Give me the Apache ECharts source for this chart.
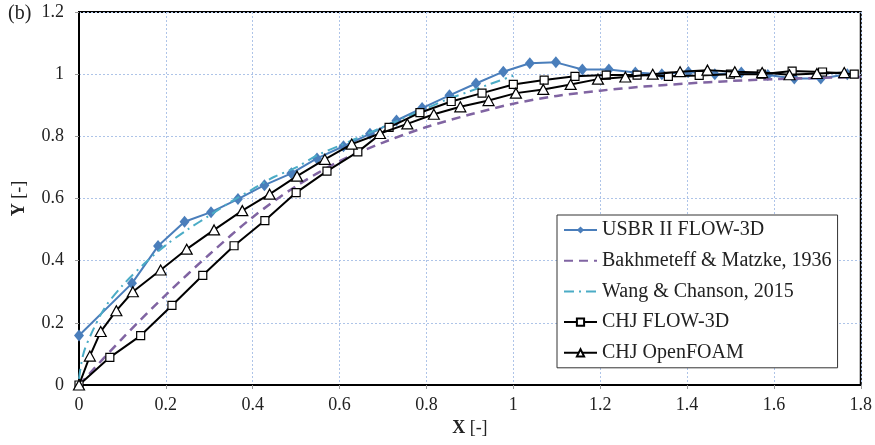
<!DOCTYPE html>
<html>
<head>
<meta charset="utf-8">
<script src="https://cdn.jsdelivr.net/npm/echarts@6/dist/echarts.min.js"></script>
<style>
  html, body { margin: 0; padding: 0; background: #fff; }
  #chart { width: 875px; height: 445px; }
</style>
</head>
<body>
<div id="chart"></div>
<script>
// Free-surface profiles: dimensionless Y against X
const xTicks = [0, 0.2, 0.4, 0.6, 0.8, 1, 1.2, 1.4, 1.6, 1.8];
const yTicks = [0, 0.2, 0.4, 0.6, 0.8, 1, 1.2];

const seriesNames = [
  'USBR II FLOW-3D',
  'Bakhmeteff & Matzke, 1936',
  'Wang & Chanson, 2015',
  'CHJ FLOW-3D',
  'CHJ OpenFOAM'
];

const usbrX = [0, 0.122, 0.182, 0.243, 0.304, 0.366, 0.427, 0.489, 0.548, 0.609, 0.670, 0.731, 0.790, 0.853, 0.914, 0.977, 1.038, 1.098, 1.159, 1.220, 1.281, 1.342, 1.403, 1.464, 1.525, 1.586, 1.647, 1.708, 1.769];
const usbrY = [0.159, 0.327, 0.447, 0.525, 0.556, 0.598, 0.643, 0.681, 0.729, 0.768, 0.808, 0.851, 0.891, 0.932, 0.970, 1.008, 1.035, 1.038, 1.015, 1.015, 1.005, 1.0, 1.007, 1.0, 1.005, 0.997, 0.986, 0.986, 1.0];

const bakhX = [0, 0.1, 0.2, 0.3, 0.4, 0.5, 0.6, 0.7, 0.8, 0.9, 1.0, 1.1, 1.2, 1.3, 1.4, 1.5, 1.6, 1.7, 1.8];
const bakhY = [0, 0.15, 0.29, 0.42, 0.54, 0.64, 0.72, 0.78, 0.83, 0.87, 0.905, 0.93, 0.947, 0.96, 0.97, 0.978, 0.984, 0.988, 0.991];

const wangX = [0, 0.01, 0.03, 0.06, 0.1, 0.15, 0.2, 0.25, 0.3, 0.35, 0.4, 0.45, 0.5, 0.55, 0.6, 0.65, 0.7, 0.75, 0.8, 0.85, 0.9, 0.95, 1.0];
const wangY = [0.02, 0.1, 0.17, 0.25, 0.32, 0.39, 0.45, 0.5, 0.545, 0.59, 0.63, 0.67, 0.7, 0.74, 0.77, 0.8, 0.83, 0.86, 0.89, 0.92, 0.945, 0.97, 0.995];

const chjFlowX = [0, 0.071, 0.142, 0.214, 0.285, 0.357, 0.428, 0.500, 0.571, 0.642, 0.714, 0.785, 0.857, 0.928, 1.0, 1.071, 1.142, 1.214, 1.285, 1.357, 1.428, 1.5, 1.571, 1.642, 1.712, 1.785];
const chjFlowY = [0, 0.089, 0.159, 0.256, 0.353, 0.448, 0.529, 0.619, 0.688, 0.750, 0.829, 0.876, 0.912, 0.939, 0.967, 0.981, 0.993, 0.997, 0.997, 0.993, 0.996, 1.0, 1.0, 1.01, 1.007, 1.0];

const chjFoamX = [0, 0.025, 0.050, 0.086, 0.124, 0.188, 0.248, 0.311, 0.376, 0.439, 0.502, 0.566, 0.628, 0.693, 0.756, 0.817, 0.878, 0.943, 1.006, 1.069, 1.132, 1.195, 1.258, 1.321, 1.384, 1.447, 1.510, 1.573, 1.636, 1.699, 1.762];
const chjFoamY = [0, 0.093, 0.172, 0.239, 0.300, 0.370, 0.437, 0.499, 0.561, 0.614, 0.672, 0.726, 0.775, 0.809, 0.840, 0.871, 0.895, 0.915, 0.939, 0.951, 0.967, 0.984, 0.991, 1.0, 1.008, 1.013, 1.008, 1.005, 0.998, 1.002, 1.005];

const pairs = (xs, ys) => xs.map((x, i) => [x, ys[i]]);

const serif = "'Liberation Serif', 'DejaVu Serif', serif";
const gridColor = '#aec4e8';
const textColor = '#222';

const nameStyle = {
  fontFamily: serif, fontSize: 18, color: textColor,
  rich: { b: { fontFamily: serif, fontSize: 18, fontWeight: 'bold', color: textColor } }
};

const chart = echarts.init(document.getElementById('chart'), null, { renderer: 'canvas' });

chart.setOption({
  animation: false,
  backgroundColor: '#fff',
  textStyle: { fontFamily: serif },
  title: {
    text: '(b)',
    left: 8,
    top: 4,
    padding: 0,
    textStyle: { fontFamily: serif, fontSize: 20, fontWeight: 'normal', color: textColor }
  },
  grid: {
    left: 79, right: 10, top: 12, bottom: 60,
    show: true, borderColor: '#000', borderWidth: 2, backgroundColor: 'transparent'
  },
  xAxis: {
    type: 'value',
    min: xTicks[0],
    max: xTicks[xTicks.length - 1],
    interval: 0.2,
    name: '{b|X} [-]',
    nameLocation: 'middle',
    nameGap: 31,
    nameTextStyle: nameStyle,
    axisLine: { lineStyle: { color: '#000', width: 2 } },
    axisTick: { show: true, length: 4, lineStyle: { color: '#999', width: 1 } },
    axisLabel: { fontFamily: serif, fontSize: 18, color: textColor, margin: 11 },
    splitLine: { show: true, lineStyle: { color: gridColor, type: [2, 2], width: 1 } }
  },
  yAxis: {
    type: 'value',
    min: yTicks[0],
    max: yTicks[yTicks.length - 1],
    interval: 0.2,
    name: '{b|Y} [-]',
    nameLocation: 'middle',
    nameGap: 51,
    nameRotate: 90,
    nameTextStyle: nameStyle,
    axisLine: { lineStyle: { color: '#000', width: 2 } },
    axisTick: { show: true, length: 4, lineStyle: { color: '#999', width: 1 } },
    axisLabel: { fontFamily: serif, fontSize: 18, color: textColor, margin: 15 },
    splitLine: { show: true, lineStyle: { color: gridColor, type: [2, 2], width: 1 } }
  },
  legend: {
    orient: 'vertical',
    left: 557,
    top: 215,
    padding: [4, 6, 4, 6],
    itemGap: 8.7,
    itemWidth: 33,
    itemHeight: 9,
    backgroundColor: '#fff',
    borderColor: '#333',
    borderWidth: 1,
    borderRadius: 0,
    textStyle: { fontFamily: serif, fontSize: 20, color: textColor, lineHeight: 22 },
    data: [
      { name: seriesNames[0] },
      { name: seriesNames[1], itemStyle: { opacity: 0 } },
      { name: seriesNames[2], itemStyle: { opacity: 0 } },
      { name: seriesNames[3] },
      { name: seriesNames[4] }
    ]
  },
  series: [
    {
      name: seriesNames[0],
      type: 'line',
      data: pairs(usbrX, usbrY),
      symbol: 'diamond',
      symbolSize: [10, 12],
      itemStyle: { color: '#4a7ebb' },
      lineStyle: { color: '#4a7ebb', width: 2 },
      z: 2
    },
    {
      name: seriesNames[1],
      type: 'line',
      data: pairs(bakhX, bakhY),
      symbol: 'none',
      smooth: 0.3,
      itemStyle: { color: '#8064a2' },
      lineStyle: { color: '#8064a2', width: 2.5, type: [9, 6] },
      z: 3
    },
    {
      name: seriesNames[2],
      type: 'line',
      data: pairs(wangX, wangY),
      symbol: 'none',
      smooth: 0.3,
      itemStyle: { color: '#4bacc6' },
      lineStyle: { color: '#4bacc6', width: 2, type: [10, 5, 2, 5] },
      z: 4
    },
    {
      name: seriesNames[3],
      type: 'line',
      data: pairs(chjFlowX, chjFlowY),
      symbol: 'rect',
      symbolSize: 8,
      itemStyle: { color: '#fff', borderColor: '#000', borderWidth: 1.2 },
      lineStyle: { color: '#000', width: 2 },
      z: 5
    },
    {
      name: seriesNames[4],
      type: 'line',
      data: pairs(chjFoamX, chjFoamY),
      symbol: 'triangle',
      symbolSize: [11, 10],
      itemStyle: { color: '#fff', borderColor: '#000', borderWidth: 1.2 },
      lineStyle: { color: '#000', width: 2 },
      z: 6
    }
  ]
});
</script>
</body>
</html>
